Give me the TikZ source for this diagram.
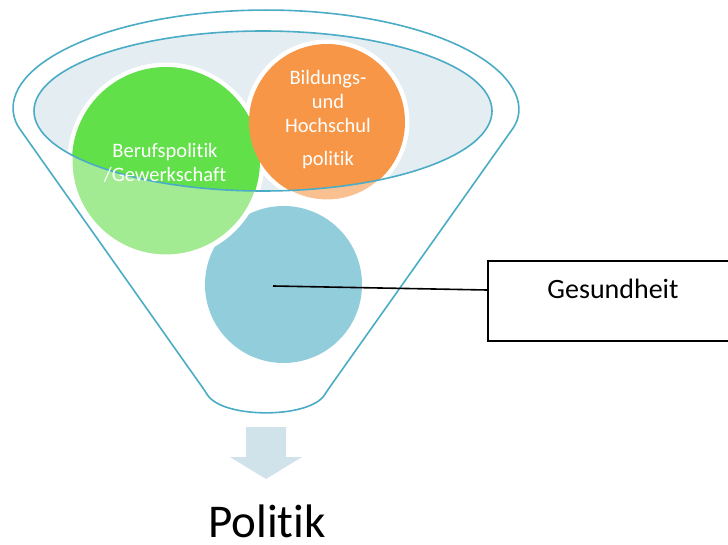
\documentclass[tikz,border=0pt]{standalone}
\usepackage{fontspec}
\setmainfont{Carlito}[Ligatures=NoCommon]
\definecolor{funnelline}{HTML}{4BACC6}
\definecolor{funnelfill}{HTML}{E3EDF2}
\definecolor{greendark}{HTML}{62E04A}
\definecolor{greenlight}{HTML}{A3EB93}
\definecolor{orangedark}{HTML}{F79646}
\definecolor{orangelight}{HTML}{FAC090}
\definecolor{bluecirc}{HTML}{92CDDC}
\definecolor{arrowfill}{HTML}{D0E2EA}
\tikzset{
  funnel/.style={draw=funnelline, line width=1.6pt},
  ringwhite/.style={draw=white, line width=5pt},
  circtext/.style={text=white, align=center, font=\fontsize{20.5}{24}\selectfont, inner sep=0pt},
  labelbox/.style={draw=black, line width=1.8pt, minimum width=260pt, minimum height=80pt, anchor=north west, inner sep=0pt},
}
\begin{document}
\begin{tikzpicture}[x=1pt,y=-1pt]
\useasboundingbox (0,0) rectangle (728,545);

% outer funnel body
\draw[funnel, rounded corners=4pt, fill=white]
  (17,125) arc[start angle=171.4, end angle=368.6, x radius=252, y radius=100]
  -- (327,391) .. controls (310,419) and (222,419) .. (205,391) -- cycle;

% mouth of the funnel
\fill[funnelfill] (263,111) ellipse[x radius=229, y radius=80];

% circles: pale part outside the mouth
\fill[bluecirc] (283.5,284.5) circle[radius=78.5];
\draw[ringwhite, fill=greenlight] (166,161) circle[radius=96];
\draw[ringwhite, fill=orangelight] (327,122) circle[radius=80];

% circles: saturated part inside the mouth
\begin{scope}
  \clip (263,111) ellipse[x radius=229, y radius=80];
  \fill[greendark] (166,161) circle[radius=94];
  \fill[orangedark] (327,122) circle[radius=78];
\end{scope}

% rim of the mouth
\draw[funnel] (263,111) ellipse[x radius=229, y radius=80];

% circle captions
\node[circtext] (beruf) at (165,163) {Berufspolitik\\/Gewerkschaft};
\node[circtext, anchor=north] (bildung) at (328,70) {Bildungs-\\und\\Hochschul\\[9pt]politik};
\coordinate (blue) at (273,286);

% label box and connector
\node[labelbox] (gbox) at (487,260) {};
\node[font=\fontsize{28}{32}\selectfont, inner sep=0pt] (gtext) at (613,289) {Gesundheit};
\coordinate (gin) at (487,290);
\draw[black, line width=1.6pt] (blue) -- (gin);

% output arrow
\fill[arrowfill] (246,427) -- (286,427) -- (286,457) -- (302,457) -- (266,479)
  -- (230,457) -- (246,457) -- cycle;
\node[font=\fontsize{47}{52}\selectfont, inner sep=0pt, text depth=0pt, anchor=base] (politik) at (267,537) {Politik};
\end{tikzpicture}
\end{document}
